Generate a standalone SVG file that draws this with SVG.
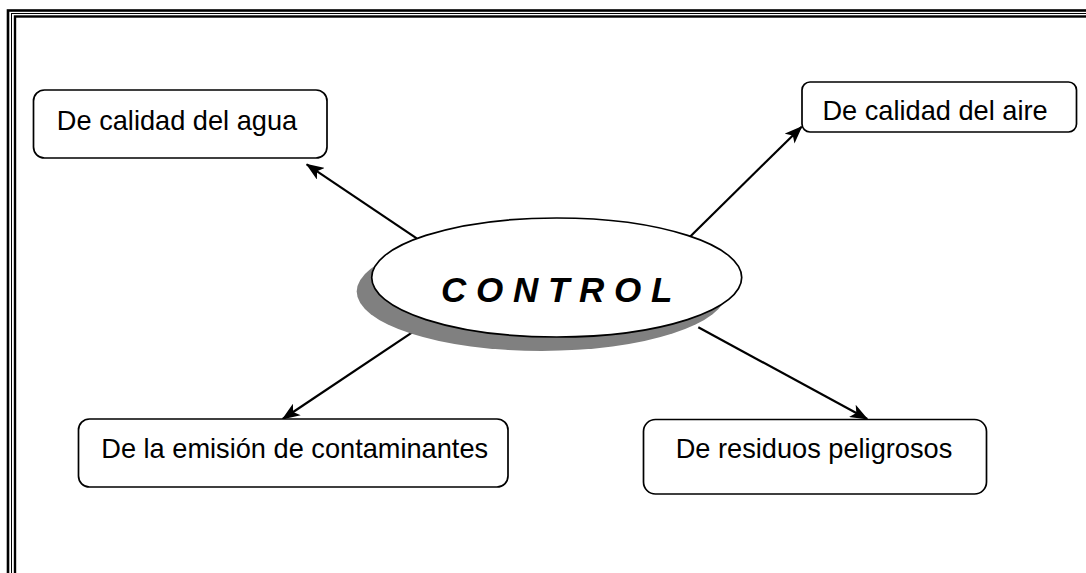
<svg xmlns="http://www.w3.org/2000/svg" width="1086" height="573" viewBox="0 0 1086 573">
<style>
.box{fill:#fff;stroke:#000;stroke-width:1.7}
.lbl{font-family:"Liberation Sans",Arial,sans-serif;font-size:27.2px;fill:#000}
.conn line{stroke:#000;stroke-width:2.2}
</style>
<defs>
<marker id="ah" viewBox="0 0 18 14" refX="17" refY="7" markerWidth="18" markerHeight="14" markerUnits="userSpaceOnUse" orient="auto">
<path d="M0,0 L18,7 L0,14 L4.5,7 Z" fill="#000"/>
</marker>
</defs>
<rect width="1086" height="573" fill="#fff"/>
<g id="frame" fill="none" stroke="#000">
<rect x="8" y="10.5" width="1100" height="600" stroke-width="2.6"/>
<rect x="11.5" y="13.5" width="1100" height="600" stroke-width="1"/>
<rect x="15" y="16.5" width="1100" height="600" stroke-width="2.4"/>
</g>
<g class="conn" id="connectors">
<line x1="416.7" y1="238.3" x2="306.7" y2="164.3" marker-end="url(#ah)"/>
<line x1="690" y1="236.7" x2="801.7" y2="126.7" marker-end="url(#ah)"/>
<line x1="416.7" y1="329.3" x2="282.7" y2="419" marker-end="url(#ah)"/>
<line x1="698.3" y1="327.3" x2="867.3" y2="419" marker-end="url(#ah)"/>
</g>
<g id="n-control">
<ellipse cx="541.7" cy="291.5" rx="185" ry="59.5" fill="#808080"/>
<ellipse cx="556.7" cy="277.5" rx="185" ry="59.5" fill="#fff" stroke="#000" stroke-width="1.7"/>
<text x="556.7" y="302.3" text-anchor="middle" font-family="Liberation Sans,Arial,sans-serif" font-size="35" font-weight="bold" font-style="italic">C O N T R O L</text>
</g>
<g id="n-agua">
<rect class="box" x="33.5" y="90" width="293.5" height="68" rx="11"/>
<text class="lbl" x="177" y="130" text-anchor="middle">De calidad del agua</text>
</g>
<g id="n-aire">
<rect class="box" x="802" y="82" width="274.5" height="50" rx="8"/>
<text class="lbl" x="935" y="120" text-anchor="middle">De calidad del aire</text>
</g>
<g id="n-emision">
<rect class="box" x="78.5" y="419" width="429.5" height="68" rx="11"/>
<text class="lbl" x="294.7" y="458" text-anchor="middle">De la emisión de contaminantes</text>
</g>
<g id="n-residuos">
<rect class="box" x="643.5" y="419.5" width="343" height="74.5" rx="12"/>
<text class="lbl" x="814" y="458.3" text-anchor="middle">De residuos peligrosos</text>
</g>
</svg>
